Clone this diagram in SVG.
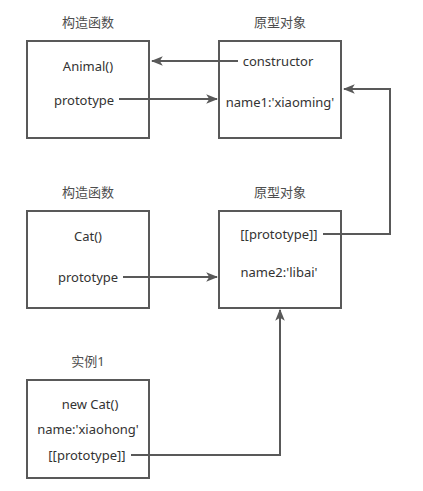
<svg xmlns="http://www.w3.org/2000/svg" width="423" height="491" viewBox="0 0 423 491">
<style>
.box{fill:#fff;stroke:#595959;stroke-width:2}
.t{font-family:"Noto Sans","Noto Sans CJK SC",sans-serif;font-size:13px;fill:#333;text-anchor:middle;dominant-baseline:central}
.h{font-family:"Noto Sans","Noto Sans CJK SC",sans-serif;font-size:13px;fill:#4d4d4d;text-anchor:middle;dominant-baseline:central}
.c{fill:none;stroke:#595959;stroke-width:2}
</style>
<defs>
<marker id="arr" viewBox="0 0 10 10" refX="9" refY="5" markerWidth="6" markerHeight="6" orient="auto" markerUnits="strokeWidth">
<path d="M0,1 L10,5 L0,9 L2.5,5 Z" fill="#595959"/>
</marker>
</defs>
<rect width="423" height="491" fill="#fff"/>
<g id="animal">
<text class="h" x="88" y="22">构造函数</text>
<rect class="box" x="27" y="41" width="122" height="97"/>
<text class="t" x="88" y="66">Animal()</text>
<text class="t" x="84" y="100">prototype</text>
</g>
<g id="animalProto">
<text class="h" x="280" y="22">原型对象</text>
<rect class="box" x="219" y="41" width="122" height="97"/>
<text class="t" x="278" y="61">constructor</text>
<text class="t" x="280" y="102">name1:'xiaoming'</text>
</g>
<g id="cat">
<text class="h" x="88" y="192">构造函数</text>
<rect class="box" x="27" y="211" width="122" height="97"/>
<text class="t" x="88" y="236">Cat()</text>
<text class="t" x="88" y="277">prototype</text>
</g>
<g id="catProto">
<text class="h" x="280" y="192">原型对象</text>
<rect class="box" x="219" y="211" width="122" height="97"/>
<text class="t" x="279" y="234">[[prototype]]</text>
<text class="t" x="279" y="272">name2:'libai'</text>
</g>
<g id="instance">
<text class="h" x="88" y="361">实例1</text>
<rect class="box" x="27" y="380" width="122" height="98"/>
<text class="t" x="90" y="404">new Cat()</text>
<text class="t" x="88" y="429">name:'xiaohong'</text>
<text class="t" x="87" y="455">[[prototype]]</text>
</g>
<g id="connectors">
<path class="c" d="M238,61 H152" marker-end="url(#arr)"/>
<path class="c" d="M119,99 H217" marker-end="url(#arr)"/>
<path class="c" d="M323,234 H390 V89 H344" marker-end="url(#arr)"/>
<path class="c" d="M123,277 H217" marker-end="url(#arr)"/>
<path class="c" d="M131,455 H280 V310" marker-end="url(#arr)"/>
</g>
</svg>
